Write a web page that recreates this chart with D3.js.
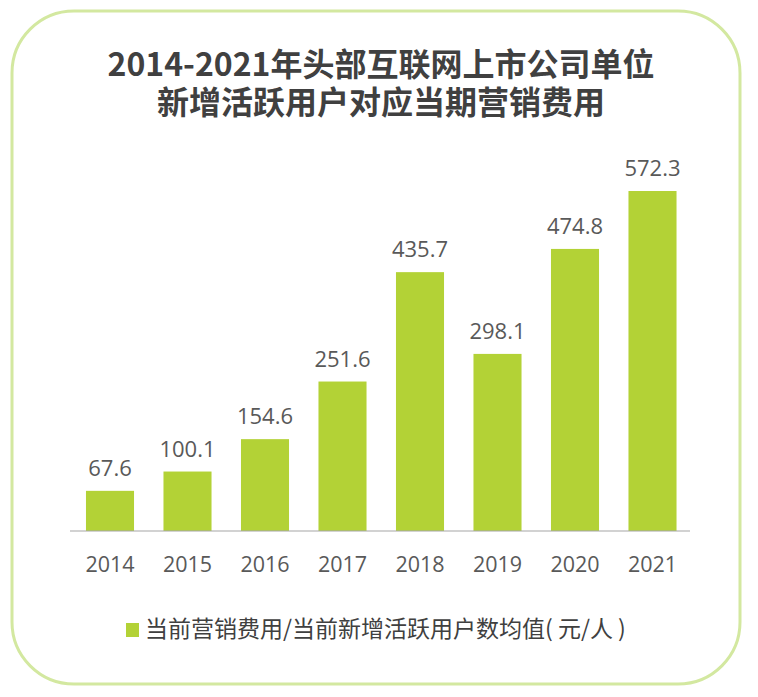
<!DOCTYPE html>
<html><head><meta charset="utf-8">
<script src="https://cdn.jsdelivr.net/npm/d3@7/dist/d3.min.js"></script>
<style>
html,body{margin:0;padding:0;background:#fff;}
svg{display:block;font-family:"Noto Sans CJK SC","Noto Sans",sans-serif;}
</style></head>
<body>
<svg id="c" width="758" height="697"></svg>
<script>
const years = ["2014","2015","2016","2017","2018","2019","2020","2021"];
const values = [67.6,100.1,154.6,251.6,435.7,298.1,474.8,572.3];
const titleLines = ["2014-2021年头部互联网上市公司单位","新增活跃用户对应当期营销费用"];
const legendLabel = "当前营销费用/当前新增活跃用户数均值( 元/人 )";

const svg = d3.select("#c");
const green = "#b3d236";

svg.append("rect").attr("x",12).attr("y",11).attr("width",728).attr("height",673)
  .attr("rx",62).attr("ry",62).attr("fill","#fff").attr("stroke","#d3e8a0").attr("stroke-width",3);

const title = svg.append("text").attr("class","title")
  .attr("text-anchor","middle").attr("font-size",32).attr("font-weight","bold").attr("fill","#404040");
title.selectAll("tspan").data(titleLines).join("tspan")
  .attr("x",381).attr("y",(d,i)=>76+i*37.5).text(d=>d);

const x = d3.scaleBand().domain(years).range([71.25,691.25]).paddingInner(0.38).paddingOuter(0.19);
const y = d3.scaleLinear().domain([0,572.3]).range([531,191]);

svg.selectAll("rect.bar").data(values).join("rect").attr("class","bar")
  .attr("x",(d,i)=>x(years[i])).attr("width",x.bandwidth())
  .attr("y",d=>y(d)).attr("height",d=>y(0)-y(d)).attr("fill",green);

svg.selectAll("text.val").data(values).join("text").attr("class","val")
  .attr("x",(d,i)=>x(years[i])+x.bandwidth()/2).attr("y",d=>y(d)-15)
  .attr("text-anchor","middle").attr("font-size",22).attr("fill","#595959")
  .attr("font-family","'Open Sans','Noto Sans',sans-serif").text(d=>d.toFixed(1));

const ax = svg.append("g").attr("transform","translate(0,531)")
  .call(d3.axisBottom(x).tickSize(0).tickPadding(0));
ax.select(".domain").attr("stroke","#a6a6a6").attr("stroke-width",1.2).attr("d","M70,0H690");
ax.selectAll("text").attr("font-size",21.5).attr("fill","#595959").attr("dy",0).attr("y",41)
  .attr("font-family","'Open Sans','Noto Sans',sans-serif");

const lg = svg.append("g");
lg.append("rect").attr("x",126).attr("y",623).attr("width",13).attr("height",14).attr("fill",green);
lg.append("text").attr("x",145).attr("y",637).attr("font-size",23).attr("fill","#404040").text(legendLabel);
</script>
</body></html>
